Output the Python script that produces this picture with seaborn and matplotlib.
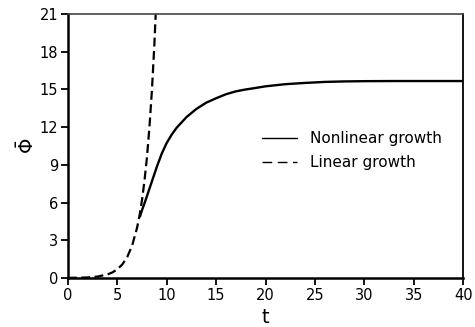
import matplotlib
matplotlib.use("Agg")
import matplotlib.pyplot as plt
import seaborn as sns
import pandas as pd
from matplotlib.lines import Line2D

# Growth curves of the mean amplitude
t_nonlinear = [7.3, 7.5, 7.8, 8.1, 8.4, 8.7, 9, 9.5, 10, 10.5, 11, 12, 13, 14,
               15, 16, 17, 18, 19, 20, 22, 24, 26, 28, 30, 33, 36, 40]
phi_nonlinear = [4.9, 5.4, 6.05, 6.75, 7.45, 8.15, 8.85, 9.9, 10.75, 11.4,
                 11.95, 12.8, 13.45, 13.95, 14.3, 14.62, 14.85, 15.0, 15.12,
                 15.25, 15.42, 15.52, 15.6, 15.64, 15.66, 15.67, 15.67, 15.67]

t_linear = [0, 1, 2, 3, 4, 4.5, 5, 5.5, 6, 6.5, 7, 7.25, 7.5, 7.75, 8, 8.25,
            8.5, 8.75, 9]
phi_linear = [0.01, 0.02, 0.04, 0.11, 0.28, 0.44, 0.69, 1.07, 1.66, 2.58, 4.0,
              4.98, 6.2, 7.75, 9.6, 12.0, 14.9, 18.6, 23.1]

x_ticks = [0, 5, 10, 15, 20, 25, 30, 35, 40]
y_ticks = [0, 3, 6, 9, 12, 15, 18, 21]

sns.set_theme(style="ticks")
plt.rcParams["font.family"] = ["DejaVu Sans"]
plt.rcParams["text.color"] = "black"
plt.rcParams["axes.labelcolor"] = "black"

fig = plt.figure(figsize=(4.75, 3.27), dpi=100)
ax = fig.add_axes([0.143, 0.150, 0.832, 0.807])

df_nl = pd.DataFrame({"t": t_nonlinear, "phi": phi_nonlinear})
df_l = pd.DataFrame({"t": t_linear, "phi": phi_linear})

sns.lineplot(data=df_l, x="t", y="phi", ax=ax, color="black", lw=1.6,
             linestyle=(0, (4, 2)), estimator=None, sort=False)
sns.lineplot(data=df_nl, x="t", y="phi", ax=ax, color="black", lw=1.7,
             estimator=None, sort=False)

ax.set_xlim(0, 40)
ax.set_ylim(0, 21)
ax.set_xticks(x_ticks)
ax.set_yticks(y_ticks)
ax.tick_params(axis="both", direction="out", length=5, width=1.3,
               colors="black", labelsize=10.5, pad=2)

for side in ["left", "bottom"]:
    ax.spines[side].set_linewidth(1.8)
    ax.spines[side].set_color("black")
ax.spines["right"].set_linewidth(1.3)
ax.spines["right"].set_color("black")
ax.spines["top"].set_linewidth(1.2)
ax.spines["top"].set_color("#444444")
ax.spines["top"].set_visible(True)
ax.spines["right"].set_visible(True)

ax.set_xlabel("t", fontsize=14, labelpad=4)
ax.set_ylabel(r"$\bar{\Phi}$", fontsize=14, labelpad=1)

handles = [
    Line2D([], [], color="black", lw=1.0),
    Line2D([], [], color="black", lw=1.0, linestyle=(0, (7, 4))),
]
ax.legend(handles, ["Nonlinear growth", "Linear growth"],
          loc="center left", bbox_to_anchor=(0.49, 0.483), frameon=False,
          fontsize=11, handlelength=2.3, handletextpad=0.85,
          labelspacing=0.6, borderpad=0, borderaxespad=0)

fig.savefig("out.png", dpi=100)
